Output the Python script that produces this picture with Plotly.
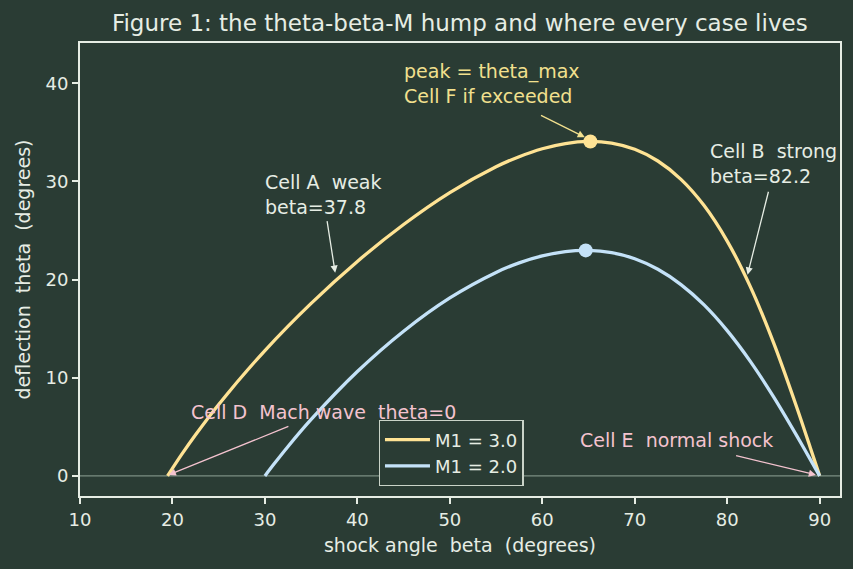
import plotly.graph_objects as go

# ---- data ----
beta_m3 = [19.47, 20, 21, 22.5, 25, 30, 35, 40, 45, 50, 55, 57.5, 60, 62.5, 65, 67.5, 70, 72.5, 75, 77.5, 80,
           82.5, 85, 87.5, 89, 90]
theta_m3 = [0, 0.77, 2.19, 4.19, 7.28, 12.77, 17.58, 21.85, 25.61, 28.86, 31.49, 32.52, 33.33, 33.86, 34.07,
            33.90, 33.27, 32.08, 30.21, 27.54, 23.92, 19.28, 13.6, 7.05, 2.85, 0]
beta_m2 = [30, 31, 32.5, 35, 40, 45, 50, 55, 57.5, 60, 62.5, 65, 67.5, 70, 72.5, 75, 77.5, 80, 82.5, 85, 87.5,
           89, 90]
theta_m2 = [0, 1.23, 3.0, 5.75, 10.63, 14.74, 18.13, 20.73, 21.70, 22.41, 22.85, 22.97, 22.74, 22.12, 21.05,
            19.49, 17.42, 14.80, 11.67, 8.08, 4.13, 1.66, 0]
peak_m3 = (65.2, 34.07)
peak_m2 = (64.7, 22.97)
x_ticks = [10, 20, 30, 40, 50, 60, 70, 80, 90]
y_ticks = [0, 10, 20, 30, 40]

BG = "#2a3c34"
FG = "#e6ede4"
YEL = "#ffe394"
BLU = "#c4e2f8"
PINK = "#f4c3cf"
FONT = "DejaVu Sans"
ANN = 19

fig = go.Figure()
fig.add_shape(type="line", xref="paper", x0=0, x1=1, y0=0, y1=0, yref="y",
              line=dict(color="#7b8e82", width=1.3), layer="below")
fig.add_trace(go.Scatter(x=beta_m3, y=theta_m3, mode="lines", name="M1 = 3.0",
                         line=dict(color=YEL, width=3.3, shape="spline", smoothing=0.8)))
fig.add_trace(go.Scatter(x=beta_m2, y=theta_m2, mode="lines", name="M1 = 2.0",
                         line=dict(color=BLU, width=3.3, shape="spline", smoothing=0.8)))
fig.add_trace(go.Scatter(x=[peak_m3[0]], y=[peak_m3[1]], mode="markers", showlegend=False,
                         marker=dict(color=YEL, size=14)))
fig.add_trace(go.Scatter(x=[peak_m2[0]], y=[peak_m2[1]], mode="markers", showlegend=False,
                         marker=dict(color=BLU, size=14)))

def label(x, y, text, color, yanchor="top"):
    fig.add_annotation(x=x, y=y, text=text, showarrow=False, xanchor="left", yanchor=yanchor,
                       align="left", font=dict(family=FONT, size=ANN, color=color))

def arrow(x0, y0, x1, y1, color):
    fig.add_annotation(x=x1, y=y1, ax=x0, ay=y0, axref="x", ayref="y", text="", showarrow=True,
                       arrowhead=2, arrowsize=1.1, arrowwidth=1.3, arrowcolor=color)

label(44.8, 42.6, "peak = theta_max<br>Cell F if exceeded", "#f2e08e")
arrow(59.7, 36.8, 64.6, 34.5, "#f2e08e")
label(29.8, 31.3, "Cell A  weak<br>beta=37.8", FG)
arrow(36.7, 26.1, 37.6, 20.7, FG)
label(77.9, 34.4, "Cell B  strong<br>beta=82.2", FG)
arrow(84.5, 29.1, 82.2, 20.5, FG)
label(21.8, 6.5, "Cell D  Mach wave  theta=0", PINK, "middle")
arrow(32.7, 5.1, 19.6, 0.1, PINK)
label(63.9, 3.66, "Cell E  normal shock", PINK, "middle")
arrow(80.8, 2.1, 89.6, 0.1, PINK)

axis_common = dict(showgrid=False, zeroline=False, showline=True, mirror=True, linecolor=FG, linewidth=2,
                   ticks="outside", ticklen=6, tickwidth=1.5, tickcolor=FG,
                   tickfont=dict(family=FONT, size=18, color=FG))
fig.update_xaxes(range=[10, 92.2], tickvals=x_ticks,
                 title=dict(text="shock angle  beta  (degrees)", font=dict(family=FONT, size=19, color=FG),
                            standoff=10), **axis_common)
fig.update_yaxes(range=[-2.05, 44.1], tickvals=y_ticks,
                 title=dict(text="deflection  theta  (degrees)", font=dict(family=FONT, size=19, color=FG),
                            standoff=10), **axis_common)

fig.update_layout(
    width=853, height=569, paper_bgcolor=BG, plot_bgcolor=BG,
    margin=dict(l=80, r=13, t=43, b=73),
    title=dict(text="Figure 1: the theta-beta-M hump and where every case lives", x=0.539, xanchor="center",
               y=1 - 23 / 569, yanchor="middle", font=dict(family=FONT, size=23, color=FG)),
    legend=dict(x=0.393, y=0.022, xanchor="left", yanchor="bottom", bgcolor=BG, bordercolor="#c9d3c8",
                borderwidth=1.3, itemwidth=45, tracegroupgap=0,
                font=dict(family=FONT, size=18, color=FG)),
    showlegend=True,
)

fig.write_html("out.html")
